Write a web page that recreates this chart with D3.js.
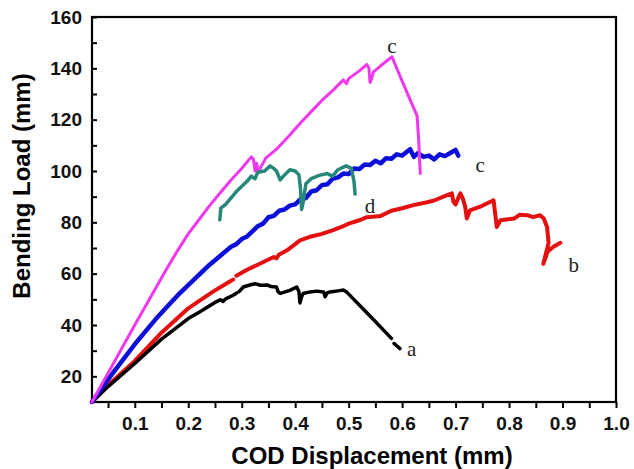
<!DOCTYPE html>
<html>
<head>
<meta charset="utf-8">
<script src="https://cdn.jsdelivr.net/npm/d3@7"></script>
<style>
  body { margin: 0; background: #fff; }
  svg text { font-family: "Liberation Sans", Arial, sans-serif; }
</style>
</head>
<body>
<div id="chart"></div>
<script>
// curve data: [COD displacement (mm), bending load], null = gap in trace
const curveA = [
  [0.02, 10], [0.05, 16], [0.1, 25], [0.15, 34.5], [0.2, 42.5], [0.222, 45.2], [0.24, 47.5],
  [0.25, 48.8], [0.26, 49.8], [0.265, 49.2], [0.27, 50.2], [0.284, 51.6], [0.29, 52.4], null,
  [0.295, 53], [0.303, 54.8], [0.315, 55.6], [0.325, 56.1], [0.335, 55.5], [0.347, 55.6],
  [0.355, 55], [0.365, 54.8], [0.368, 53], [0.372, 52.3], [0.381, 52.9], [0.39, 53.5],
  [0.403, 54.8], [0.407, 53], [0.409, 48.6], [0.412, 51], [0.415, 52.3], [0.428, 52.9],
  [0.44, 53.2], [0.453, 52.9], [0.456, 51], [0.46, 52.5], [0.465, 52.9], [0.48, 53.3],
  [0.49, 53.6], [0.496, 52.9], [0.54, 43.5], [0.58, 34.8], null, [0.585, 32.8], [0.596, 30.8]
];
const curveB = [
  [0.02, 10], [0.05, 16.5], [0.1, 26], [0.15, 37], [0.2, 46.5], [0.222, 49.6], [0.25, 53.5],
  [0.27, 56], [0.284, 57.7], null, [0.29, 59.2], [0.31, 61.5], [0.33, 63.5], [0.35, 65.5],
  [0.36, 66.5], [0.365, 66], [0.37, 67.5], [0.384, 69], [0.4, 71.5], [0.409, 73], [0.43, 74.5],
  [0.45, 75.5], [0.471, 77], [0.49, 78.5], [0.5, 79.5], [0.52, 80.8], [0.534, 82], [0.56, 82.5],
  [0.58, 84.5], [0.6, 85.5], [0.621, 86.7], [0.64, 87.5], [0.66, 88.5], [0.684, 90.6],
  [0.693, 91.3], [0.696, 88], [0.7, 87], [0.705, 89.5], [0.709, 91.3], [0.714, 89], [0.718, 86],
  [0.721, 81.5], [0.727, 84.7], [0.745, 86], [0.765, 88], [0.771, 88.6], [0.774, 83.4],
  [0.777, 78.2], [0.784, 80.8], [0.81, 81.5], [0.82, 83], [0.834, 82.8], [0.845, 82],
  [0.858, 82.8], [0.865, 81.5], [0.871, 78.2], [0.874, 72], [0.864, 63.8], [0.872, 68.5],
  [0.883, 70.5], [0.896, 72]
];
const curveC1 = [
  [0.02, 10], [0.06, 25], [0.1, 40], [0.13, 51], [0.16, 62], [0.18, 69], [0.2, 75.5],
  [0.22, 81], [0.24, 86.5], [0.26, 91.5], [0.28, 96.5], [0.3, 101], [0.31, 103.5],
  [0.318, 105.5], [0.322, 104.5], [0.325, 100], [0.328, 103], [0.331, 99.5], [0.337, 102],
  [0.345, 105], [0.365, 108.5], [0.39, 114], [0.409, 118.5], [0.434, 124], [0.45, 127.5],
  [0.471, 131.5], [0.49, 135.5], [0.496, 134], [0.5, 136], [0.52, 139], [0.534, 141.5],
  [0.538, 140], [0.54, 134.5], [0.543, 136], [0.546, 138.5], [0.56, 141], [0.581, 144.5],
  [0.6, 135], [0.628, 121.5], [0.631, 112], [0.634, 99]
];
const curveC2 = [
  [0.02, 10], [0.04, 16], [0.06, 21.5], [0.08, 27], [0.1, 32.5], [0.12, 37.5], [0.14, 42.5],
  [0.16, 47], [0.18, 51.5], [0.2, 55.5], [0.22, 59.5], [0.24, 63.5], [0.26, 67], [0.28, 70.5],
  [0.29, 71.5], [0.3, 73.5], [0.31, 74.5], [0.32, 76.5], [0.33, 78.5], [0.34, 79.5],
  [0.35, 82], [0.36, 82.5], [0.37, 84.5], [0.38, 85], [0.39, 86.5], [0.4, 87], [0.41, 89],
  [0.42, 89.5], [0.43, 92], [0.44, 92.5], [0.45, 94.5], [0.46, 94.8], [0.47, 97], [0.48, 97.5],
  [0.49, 99], [0.5, 98.8], [0.51, 101], [0.52, 100.8], [0.53, 102.5], [0.54, 102.3],
  [0.55, 104], [0.56, 103], [0.57, 105], [0.58, 104.8], [0.59, 106.5], [0.6, 106],
  [0.615, 108.5], [0.622, 105.5], [0.63, 107], [0.64, 105.5], [0.65, 106], [0.66, 104.5],
  [0.67, 106.5], [0.68, 105.8], [0.69, 107], [0.7, 108.2], [0.705, 106]
];
const curveD = [
  [0.259, 81], [0.261, 85.5], [0.27, 87], [0.29, 92], [0.31, 96], [0.318, 98], [0.325, 97],
  [0.33, 99.5], [0.343, 100], [0.353, 102], [0.36, 101], [0.365, 100], [0.372, 96.5],
  [0.378, 98], [0.39, 100.5], [0.4, 100], [0.407, 98.5], [0.41, 93], [0.412, 85], [0.415, 88],
  [0.42, 95], [0.43, 97], [0.445, 98.3], [0.46, 99], [0.47, 98], [0.48, 100.5], [0.495, 102],
  [0.505, 101], [0.51, 96], [0.512, 91]
];

const series = [
  { name: 'b', data: curveB, color: '#e3100f', width: 4 },
  { name: 'a', data: curveA, color: '#000000', width: 3.5 },
  { name: 'c2', data: curveC2, color: '#0b0fd8', width: 4.5 },
  { name: 'c1', data: curveC1, color: '#ee38ee', width: 3 },
  { name: 'd', data: curveD, color: '#27877a', width: 3.5 }
];

// curve tags: [text, x, y]
const curveLabels = [
  ['c', 0.581, 145.9], ['c', 0.746, 99.6], ['d', 0.54, 83.6], ['b', 0.921, 60.6], ['a', 0.618, 27.8]
];

const xTicks = d3.range(1, 21).map(i => +(i * 0.05).toFixed(2));
const yTicks = d3.range(2, 17).map(i => i * 10);

const width = 634;
const height = 469;
const margin = { top: 17, right: 18, bottom: 67, left: 92 };

const svg = d3.select('#chart').append('svg')
  .attr('width', width)
  .attr('height', height);

const x = d3.scaleLinear().domain([0.02, 1.0]).range([margin.left, width - margin.right]);
const y = d3.scaleLinear().domain([10, 160]).range([height - margin.bottom, margin.top]);

// axes
const xAxis = svg.append('g')
  .attr('transform', `translate(0,${height - margin.bottom})`)
  .call(d3.axisBottom(x).tickValues(xTicks).tickSize(6).tickPadding(9)
    .tickFormat(d => (Math.round(d * 100) % 10 === 0 ? d.toFixed(1) : '')));
const yAxis = svg.append('g')
  .attr('transform', `translate(${margin.left},0)`)
  .call(d3.axisLeft(y).tickValues(yTicks).tickSize(-5).tickPadding(10)
    .tickFormat(d => (d % 20 === 0 ? d : '')));

[xAxis, yAxis].forEach(g => {
  g.select('.domain').remove();
  g.selectAll('.tick line').attr('stroke', '#000').attr('stroke-width', 2);
  g.selectAll('.tick text')
    .attr('fill', '#111')
    .style('font-size', '19px')
    .style('font-weight', 'bold');
});

// frame
svg.append('rect')
  .attr('x', margin.left)
  .attr('y', margin.top)
  .attr('width', width - margin.left - margin.right)
  .attr('height', height - margin.top - margin.bottom)
  .attr('fill', 'none')
  .attr('stroke', '#000')
  .attr('stroke-width', 2.2);

const line = d3.line()
  .defined(d => d !== null)
  .x(d => x(d[0]))
  .y(d => y(d[1]));

svg.append('g').selectAll('path')
  .data(series)
  .join('path')
  .attr('d', d => line(d.data))
  .attr('fill', 'none')
  .attr('stroke', d => d.color)
  .attr('stroke-width', d => d.width)
  .attr('stroke-linejoin', 'round')
  .attr('stroke-linecap', 'round');

svg.append('g').selectAll('text')
  .data(curveLabels)
  .join('text')
  .attr('x', d => x(d[1]))
  .attr('y', d => y(d[2]))
  .attr('text-anchor', 'middle')
  .style('font-family', '"Liberation Serif", "Times New Roman", serif')
  .style('font-size', '21px')
  .attr('fill', '#222')
  .text(d => d[0]);

// axis titles
svg.append('text')
  .attr('x', 372)
  .attr('y', 464)
  .attr('text-anchor', 'middle')
  .style('font-size', '24px')
  .style('font-weight', 'bold')
  .text('COD Displacement (mm)');

svg.append('text')
  .attr('transform', 'translate(29.5,186) rotate(-90)')
  .attr('text-anchor', 'middle')
  .style('font-size', '24px')
  .style('font-weight', 'bold')
  .text('Bending Load (mm)');
</script>
</body>
</html>
